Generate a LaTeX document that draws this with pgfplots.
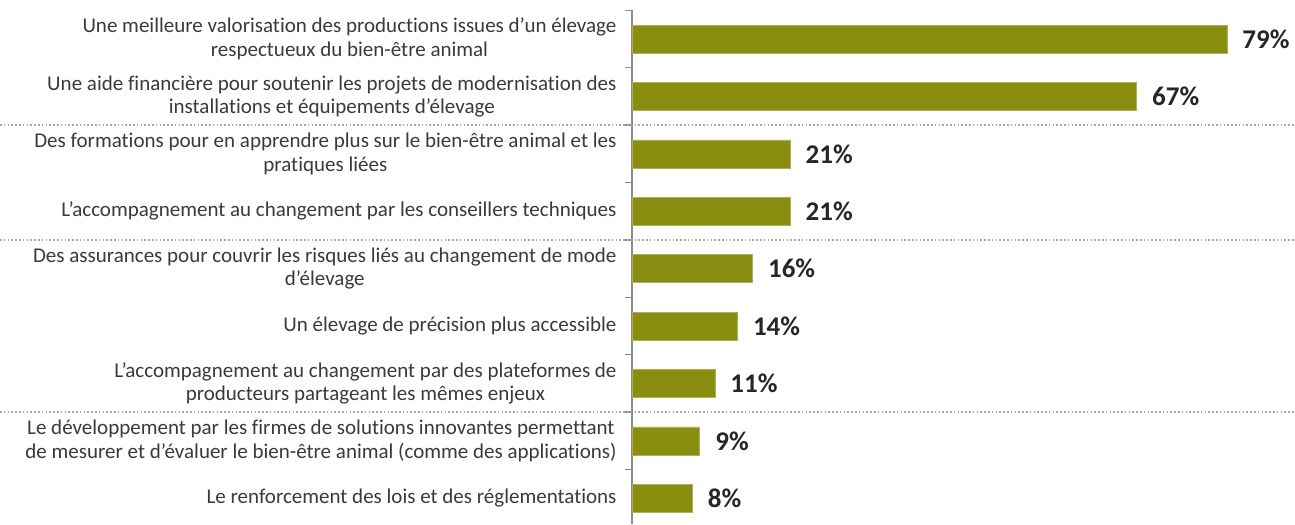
\documentclass[border=0pt]{standalone}
\usepackage{fontspec}
\setmainfont{Carlito}[Ligatures=CommonOff]
\usepackage{pgfplots}
\pgfplotsset{compat=1.18}
\definecolor{barcol}{HTML}{8A8E10}
\definecolor{axcol}{HTML}{8C8C8C}
\definecolor{dotcol}{HTML}{A6A6A6}
\definecolor{txtcol}{HTML}{3A3A3A}
\definecolor{valcol}{HTML}{262626}

\begin{document}
\begin{tikzpicture}
\begin{axis}[
  xbar,
  scale only axis,
  width=662.6pt, height=513.7pt,
  xmin=0, xmax=88,
  ymin=-0.5, ymax=8.45,
  y dir=reverse,
  bar width=28pt,
  axis x line=none,
  axis y line=left,
  y axis line style={-, draw=axcol, line width=1.3pt},
  xtick=\empty,
  ytick={0,...,8},
  major tick length=0pt,
  minor ytick={-0.5,0.5,...,7.5},
  minor tick length=7pt,
  tick align=outside,
  every tick/.style={draw=axcol, line width=1.3pt},
  yticklabels={
    {Une meilleure valorisation des productions issues d’un élevage\\respectueux du bien-être animal},
    {Une aide financière pour soutenir les projets de modernisation des\\installations et équipements d’élevage},
    {Des formations pour en apprendre plus sur le bien-être animal et les\\pratiques liées},
    {L’accompagnement au changement par les conseillers techniques},
    {Des assurances pour couvrir les risques liés au changement de mode\\d’élevage},
    {Un élevage de précision plus accessible},
    {L’accompagnement au changement par des plateformes de\\producteurs partageant les mêmes enjeux},
    {Le développement par les firmes de solutions innovantes permettant\\de mesurer et d’évaluer le bien-être animal (comme des applications)},
    {Le renforcement des lois et des réglementations}
  },
  yticklabel style={font=\fontsize{21}{23.5}\selectfont, text=txtcol, align=center, xshift=-12pt},
  point meta=x,
  nodes near coords={\pgfmathprintnumber{\pgfplotspointmeta}\%},
  nodes near coords style={font=\fontsize{27}{30}\selectfont\bfseries, text=valcol, anchor=west, xshift=12pt,
    /pgf/number format/assume math mode=true},
  clip=false,
]
\addplot[fill=barcol, draw=barcol!70!white, line width=0.6pt]
  coordinates {(79,0) (67,1) (21,2) (21,3) (16,4) (14,5) (11,6) (9,7) (8,8)};
\draw[dotcol, line width=1.6pt, dash pattern=on 1.6pt off 2.2pt] (axis cs:-83.93,1.5) -- (axis cs:88.05,1.5);
\draw[dotcol, line width=1.6pt, dash pattern=on 1.6pt off 2.2pt] (axis cs:-83.93,3.5) -- (axis cs:88.05,3.5);
\draw[dotcol, line width=1.6pt, dash pattern=on 1.6pt off 2.2pt] (axis cs:-83.93,6.5) -- (axis cs:88.05,6.5);
\coordinate (bl) at (axis cs:-83.93,8.45);
\coordinate (tr) at (axis cs:88.05,-0.68);
\end{axis}
\pgfresetboundingbox
\path (bl) rectangle (tr);
\end{tikzpicture}
\end{document}
